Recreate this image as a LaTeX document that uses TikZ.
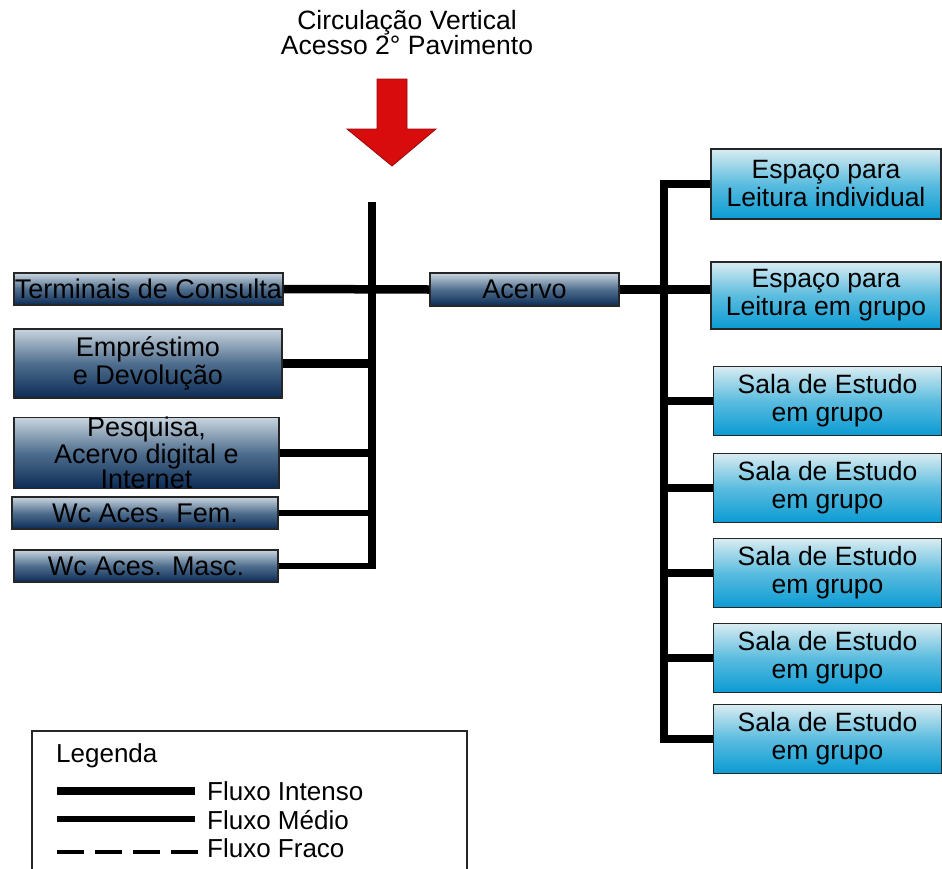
\documentclass[tikz,border=0pt]{standalone}
\usepackage{fontspec}
\setmainfont{Liberation Sans}
\definecolor{navyTop}{HTML}{C9D5DF}
\definecolor{navyMid}{HTML}{4F6E8E}
\definecolor{navyBot}{HTML}{0B2B55}
\definecolor{cyanTop}{HTML}{D9ECF1}
\definecolor{cyanMid}{HTML}{5BBCDF}
\definecolor{cyanBot}{HTML}{0A9BD3}
\definecolor{arrowRed}{HTML}{D80C0C}
\begin{document}
\begin{tikzpicture}[x=1pt,y=-1pt,
  box/.style={draw=black!85, line width=1.2pt, inner sep=0pt, align=center,
    font=\fontsize{27}{28}\selectfont},
  navybox/.style={box, top color=navyTop, bottom color=navyBot, middle color=navyMid},
  cyanbox/.style={box, top color=cyanTop, bottom color=cyanBot, middle color=cyanMid,
    minimum width=228pt, minimum height=69pt, font=\fontsize{26.5}{28}\selectfont},
  heavy/.style={line width=8.5pt},
  medflow/.style={line width=5.5pt},
  weakflow/.style={line width=4pt, dash pattern=on 27pt off 11pt},
  lbl/.style={inner sep=0pt, font=\fontsize{26}{28}\selectfont}]
\useasboundingbox (0,0) rectangle (942,868);

% title
\node[lbl, align=center, font=\fontsize{26.5}{25}\selectfont] (title) at (407,33)
  {Circulação Vertical\\Acesso 2° Pavimento};

% red arrow
\draw[fill=arrowRed, draw=arrowRed!70!black, line width=0.8pt, line join=miter]
  (377,79) -- (407,79) -- (407,129) -- (436,129) -- (392,166) -- (347,129) -- (377,129) -- cycle;

% left boxes
\node[navybox, minimum width=269pt, minimum height=32pt] (term) at (148.5,289) {Terminais de Consulta};
\node[navybox, minimum width=268pt, minimum height=69pt] (emp) at (148,363.5) {Empréstimo\\e Devolução};
\node[navybox, minimum width=265pt, minimum height=70pt,
  font=\fontsize{27}{21}\selectfont] (pesq) at (146.5,453) {Pesquisa,\\Acervo digital e\\Internet};
\node[navybox, minimum width=266pt, minimum height=32pt] (wcf) at (145,513) {Wc Aces. Fem.};
\node[navybox, minimum width=264pt, minimum height=32pt] (wcm) at (146,566) {Wc Aces. Masc.};
\node[navybox, minimum width=189pt, minimum height=33pt] (acervo) at (524.5,289.5) {Acervo};

% right boxes
\node[cyanbox, minimum width=230pt, minimum height=70pt] (e1) at (826,184) {Espaço para\\Leitura individual};
\node[cyanbox, minimum width=230pt, minimum height=67pt] (e2) at (826,295.5) {Espaço para\\Leitura em grupo};
\node[cyanbox] (s1) at (827.5,401) {Sala de Estudo\\em grupo};
\node[cyanbox] (s2) at (827.5,488) {Sala de Estudo\\em grupo};
\node[cyanbox] (s3) at (827.5,573) {Sala de Estudo\\em grupo};
\node[cyanbox] (s4) at (827.5,658) {Sala de Estudo\\em grupo};
\node[cyanbox] (s5) at (827.5,739) {Sala de Estudo\\em grupo};

% trunks
\coordinate (ltop) at (372,202);
\coordinate (lbot) at (372,568.5);
\coordinate (rtr) at (664,400);

\draw[heavy] (ltop) -- (lbot);
\draw[heavy] (term.east) -- (acervo.west);
\draw[heavy] (emp.east) -- (emp.east -| ltop);
\draw[heavy] (pesq.east) -- (pesq.east -| ltop);
\draw[medflow] (wcf.east) -- (wcf.east -| ltop);
\draw[medflow] (wcm.east) -- (wcm.east -| ltop);

\draw[heavy] (acervo.east) -- (acervo.east -| e2.west);
\draw[heavy, line join=miter] (e1.west) -| (rtr) |- (s5.west);
\draw[heavy] (s1.west) -- (s1.west -| rtr);
\draw[heavy] (s2.west) -- (s2.west -| rtr);
\draw[heavy] (s3.west) -- (s3.west -| rtr);
\draw[heavy] (s4.west) -- (s4.west -| rtr);

% legend
\draw[line width=1.2pt, draw=black!85] (32,731) rectangle (467,900);
\node[lbl, anchor=base west] (leg) at (56,762) {Legenda};
\node[lbl, anchor=base west] (fi) at (207,800) {Fluxo Intenso};
\node[lbl, anchor=base west] (fm) at (207,829) {Fluxo Médio};
\node[lbl, anchor=base west] (ff) at (207,857) {Fluxo Fraco};
\coordinate (a1) at (57,791);
\coordinate (b1) at (195,791);
\coordinate (a2) at (57,819);
\coordinate (b2) at (195,819);
\coordinate (a3) at (57,852);
\coordinate (b3) at (198,852);
\draw[line width=8pt] (a1) -- (b1);
\draw[medflow] (a2) -- (b2);
\draw[weakflow] (a3) -- (b3);
\end{tikzpicture}
\end{document}
